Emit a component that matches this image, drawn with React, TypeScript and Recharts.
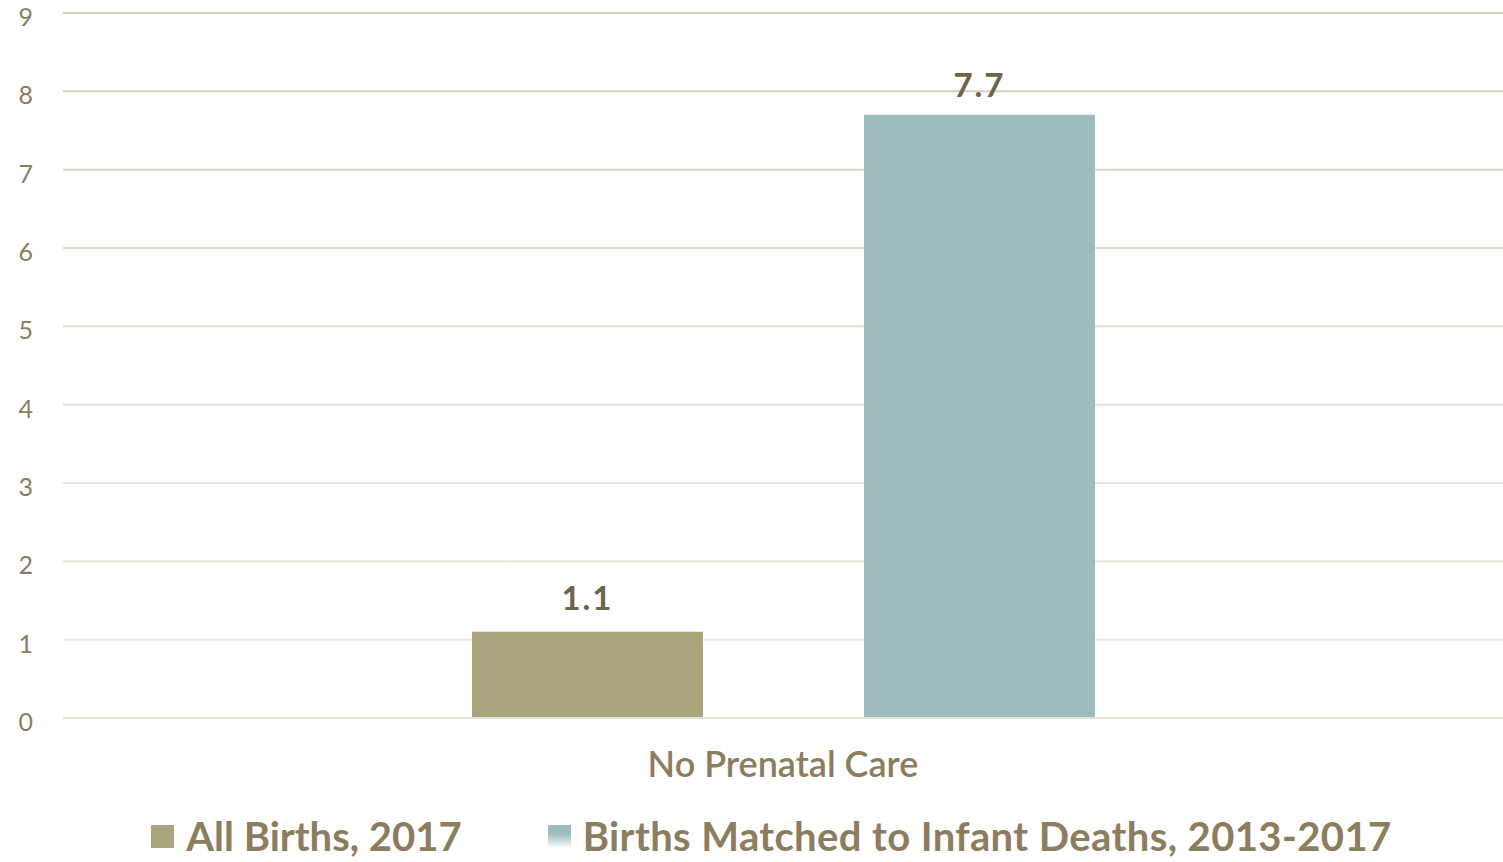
import React from 'react';
import { BarChart, Bar, XAxis, YAxis, CartesianGrid, LabelList, Legend } from 'recharts';

const categories = ['No Prenatal Care'];
const allBirths = [1.1];
const matchedBirths = [7.7];
const yTicks = [0, 1, 2, 3, 4, 5, 6, 7, 8, 9];
const seriesNames = ['All Births, 2017', 'Births Matched to Infant Deaths, 2013-2017'];
const seriesColors = ['#a8a47c', '#9dbdbc'];

const data = categories.map((c, i) => ({
  name: c,
  all: allBirths[i],
  matched: matchedBirths[i],
}));

const textColor = '#8b7d5e';
const labelColor = '#6e6448';
const font = 'Lato, "Open Sans", sans-serif';

const LegendContent = () => (
  <div style={{ display: 'flex', justifyContent: 'center', alignItems: 'center', fontFamily: font, fontWeight: 700, fontSize: 40, color: textColor, paddingLeft: 40, paddingTop: 14 }}>
    {seriesNames.map((n, i) => (
      <div key={n} style={{ display: 'flex', alignItems: 'center', marginRight: i === 0 ? 86 : 0 }}>
        <div
          style={{
            width: 23,
            height: 23,
            marginRight: 12,
            background: i === 0 ? seriesColors[0] : `linear-gradient(${seriesColors[1]} 40%, #ffffff)`,
          }}
        />
        <span style={{ letterSpacing: i === 1 ? 0.4 : 0 }}>{n}</span>
      </div>
    ))}
  </div>
);

export default function App() {
  return (
    <div style={{ position: 'absolute', left: 0, top: 0, background: '#fff' }}>
      <BarChart
        width={1503}
        height={862}
        data={data}
        margin={{ top: 13, right: 0, left: 0, bottom: 0 }}
        barCategoryGap="28.4%"
        barGap={161}
      >
        <defs>
          <linearGradient id="gridGrad" gradientUnits="userSpaceOnUse" x1="0" y1="13" x2="0" y2="718">
            <stop offset="0%" stopColor="#d3cdbd" />
            <stop offset="100%" stopColor="#f0eee8" />
          </linearGradient>
        </defs>
        <CartesianGrid vertical={false} stroke="url(#gridGrad)" strokeWidth={2} />
        <XAxis
          dataKey="name"
          axisLine={{ stroke: '#e6e2d8', strokeWidth: 2 }}
          tickLine={false}
          height={80}
          tick={{ fill: textColor, fontSize: 36, fontFamily: font, fontWeight: 600 }}
          tickMargin={27}
        />
        <YAxis
          domain={[0, 9]}
          ticks={yTicks}
          interval={0}
          width={63}
          axisLine={false}
          tickLine={false}
          tickMargin={24}
          tick={{ fill: textColor, fontSize: 25, fontFamily: font, dy: 4 }}
        />
        <Legend verticalAlign="bottom" height={64} content={<LegendContent />} />
        <Bar dataKey="all" name={seriesNames[0]} fill={seriesColors[0]} isAnimationActive={false}>
          <LabelList dataKey="all" position="top" offset={22} fill={labelColor} fontSize={33} fontWeight={700} fontFamily={font} letterSpacing={2} />
        </Bar>
        <Bar dataKey="matched" name={seriesNames[1]} fill={seriesColors[1]} isAnimationActive={false}>
          <LabelList dataKey="matched" position="top" offset={18} fill={labelColor} fontSize={33} fontWeight={700} fontFamily={font} letterSpacing={2} />
        </Bar>
      </BarChart>
    </div>
  );
}
